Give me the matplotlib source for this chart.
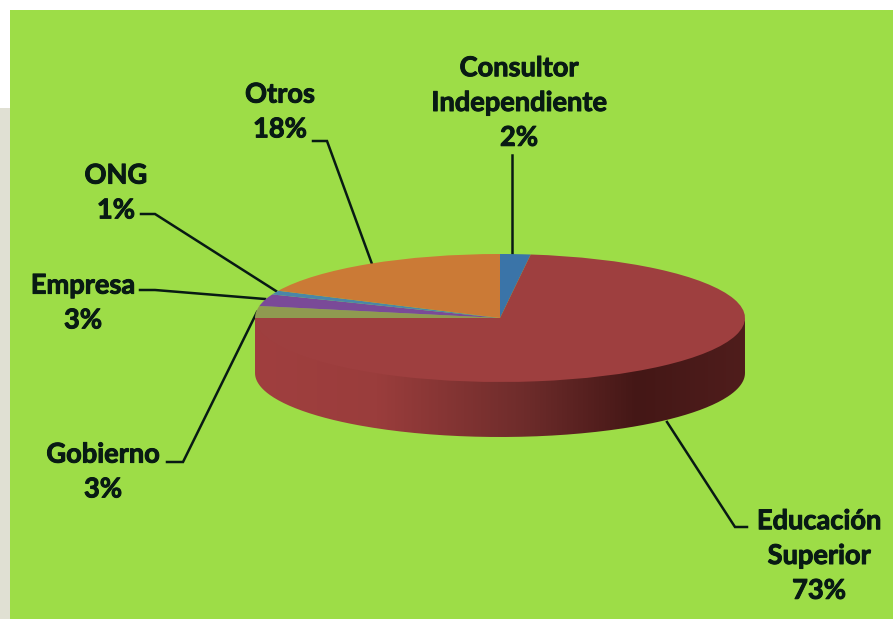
import matplotlib
matplotlib.use("Agg")
import matplotlib.patheffects as pe
import matplotlib.pyplot as plt
import numpy as np
from matplotlib.colors import LinearSegmentedColormap
from matplotlib.patches import PathPatch, Rectangle
from matplotlib.path import Path

labels = ["Consultor\nIndependiente", "Educación\nSuperior", "Gobierno", "Empresa", "ONG", "Otros"]
values = [2, 73, 3, 3, 1, 18]
colors = ["#3a74a8", "#9e3f3f", "#8f9a50", "#7a4a98", "#4a86a8", "#cb7a36"]

W, H = 893, 619
GREEN = "#9ddd47"
INK = "#081a14"
cx, cy, rx, ry, depth = 500, 318, 245, 64, 55

fig = plt.figure(figsize=(W / 100, H / 100), dpi=100, facecolor="white")

# pixel canvas for background, side of the pie, leaders and text
ax = fig.add_axes([0, 0, 1, 1])
ax.set_xlim(0, W)
ax.set_ylim(H, 0)
ax.axis("off")
ax.add_patch(Rectangle((0, 108), 10, H - 108, fc="#e0e0d3", ec="none"))
ax.add_patch(Rectangle((10, 10), W - 10, H - 10, fc=GREEN, ec="none"))

# side wall of the 3D pie, gradient clipped to the lower half ellipse
t = np.linspace(0, np.pi, 200)
xs = cx + rx * np.cos(t)
ys = cy + ry * np.sin(t)
verts = list(zip(xs, ys + depth)) + list(zip(xs[::-1], ys[::-1] - 2))
wall = PathPatch(Path(verts + [verts[0]]), fc="none", ec="none", transform=ax.transData)
ax.add_patch(wall)
wall_cmap = LinearSegmentedColormap.from_list(
    "wall", [(0, "#a03f3f"), (0.25, "#9a3d3c"), (0.55, "#6e2c2b"), (0.78, "#441716"), (1, "#4f1d1c")]
)
im = ax.imshow(np.linspace(0, 1, 256)[None, :], cmap=wall_cmap, aspect="auto",
               extent=(cx - rx, cx + rx, cy + ry + depth, cy), zorder=2)
im.set_clip_path(wall)
ax.set_xlim(0, W)
ax.set_ylim(H, 0)

# top of the pie, squashed by giving its axes the ellipse's box
pie_ax = fig.add_axes([(cx - rx) / W, 1 - (cy + ry) / H, 2 * rx / W, 2 * ry / H])
pie_ax.pie(values, colors=colors, startangle=90, counterclock=False, radius=1,
           wedgeprops={"linewidth": 0})
pie_ax.set_aspect("auto")
pie_ax.set_xlim(-1, 1)
pie_ax.set_ylim(-1, 1)
pie_ax.patch.set_alpha(0)

# leader lines
leaders = [
    ([512, 512], [155, 256]),
    ([667, 735, 747], [422, 527, 527]),
    ([257, 183, 167], [312, 462, 462]),
    ([265, 155, 140], [299, 290, 290]),
    ([276, 155, 141], [291, 214, 214]),
    ([372, 327, 313], [264, 141, 141]),
]
for lx, ly in leaders:
    ax.plot(lx, ly, color=INK, lw=1.8, zorder=3, solid_joinstyle="miter")

label_pos = [(519, 103), (819, 556), (103, 472), (83, 303), (116, 193), (280, 112)]
for name, val, (x, y) in zip(labels, values, label_pos):
    txt = ax.text(x, y, f"{name}\n{val}%", ha="center", va="center", family="Lato",
                  weight="bold", fontsize=19.6, color=INK, linespacing=1.54, zorder=4)
    txt.set_path_effects([pe.withStroke(linewidth=0.7, foreground=INK)])

fig.savefig("out.png", dpi=100)
